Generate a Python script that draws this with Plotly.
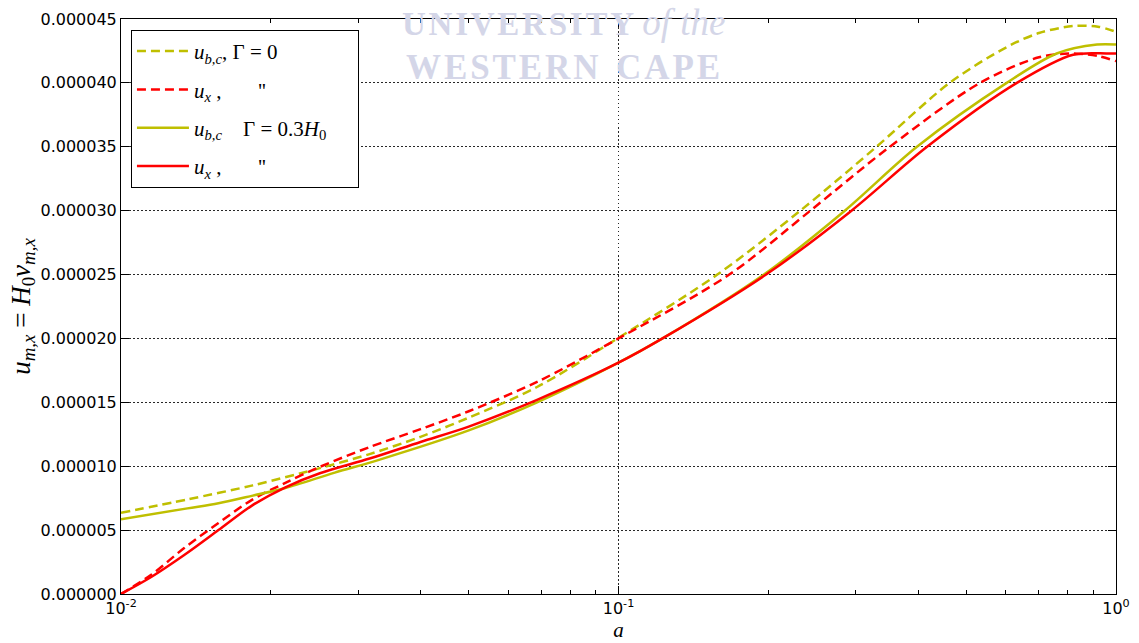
import plotly.graph_objects as go

# ---- data (values in units of 1e-6) ----
a_ubc_g0 = [0.01, 0.0136, 0.0184, 0.0251, 0.0316, 0.04, 0.05, 0.0686, 0.1, 0.158, 0.232, 0.33, 0.463, 0.603, 0.7, 0.82, 0.92, 1.0]
u_ubc_g0 = [6.35, 7.4, 8.5, 9.85, 10.95, 12.3, 13.8, 16.2, 20.05, 25.0, 30.0, 35.0, 40.0, 42.8, 43.9, 44.45, 44.4, 44.0]

a_ux_g0 = [0.01, 0.0115, 0.0134, 0.0157, 0.0183, 0.0214, 0.0251, 0.0316, 0.04, 0.05, 0.0686, 0.1, 0.167, 0.243, 0.351, 0.533, 0.70, 0.82, 0.92, 1.0]
u_ux_g0 = [0.0, 1.5, 3.6, 5.55, 7.35, 8.7, 9.95, 11.5, 12.9, 14.3, 16.6, 20.0, 25.0, 30.0, 35.0, 40.0, 42.0, 42.3, 42.1, 41.7]

a_ubc_g3 = [0.01, 0.0136, 0.0157, 0.0184, 0.0214, 0.0269, 0.033, 0.05, 0.0686, 0.1, 0.1226, 0.196, 0.285, 0.398, 0.603, 0.76, 0.916, 1.0]
u_ubc_g3 = [5.85, 6.7, 7.1, 7.7, 8.3, 9.5, 10.5, 12.8, 15.0, 18.1, 20.0, 25.0, 30.0, 35.0, 40.0, 42.3, 43.0, 43.0]

a_ux_g3 = [0.01, 0.0115, 0.0134, 0.0157, 0.0183, 0.0214, 0.0251, 0.0316, 0.04, 0.05, 0.0686, 0.1, 0.1226, 0.198, 0.294, 0.417, 0.632, 0.82, 0.959, 1.0]
u_ux_g3 = [0.0, 1.33, 3.05, 5.0, 6.9, 8.35, 9.45, 10.6, 11.9, 13.1, 15.2, 18.1, 20.0, 25.0, 30.0, 35.0, 40.0, 42.2, 42.3, 42.3]

y_ticks = [0, 5e-6, 10e-6, 15e-6, 20e-6, 25e-6, 30e-6, 35e-6, 40e-6, 45e-6]
x_ticks = [0.01, 0.1, 1.0]
x_ticklabels = ["10<sup>-2</sup>", "10<sup>-1</sup>", "10<sup>0</sup>"]
x_minor_ticks = [0.02, 0.03, 0.04, 0.05, 0.06, 0.07, 0.08, 0.09,
                 0.2, 0.3, 0.4, 0.5, 0.6, 0.7, 0.8, 0.9]

YEL = "rgb(191,191,0)"
RED = "rgb(255,0,0)"
SERIF = "Liberation Serif"
NB = "\u00a0"

def scale(v):
    return [x * 1e-6 for x in v]

fig = go.Figure()
series = [
    (a_ubc_g0, u_ubc_g0, YEL, "9px,5px", "<i>u</i><sub><i>b,c</i></sub>," + NB + "Γ" + NB + "=" + NB + "0"),
    (a_ux_g0, u_ux_g0, RED, "9px,5px", "<i>u</i><sub><i>x</i></sub>" + NB + "," + NB * 7 + "''"),
    (a_ubc_g3, u_ubc_g3, YEL, "solid", "<i>u</i><sub><i>b,c</i></sub>" + NB * 4 + "Γ" + NB + "=" + NB + "0.3<i>H</i><sub>0</sub>" + NB * 5),
    (a_ux_g3, u_ux_g3, RED, "solid", "<i>u</i><sub><i>x</i></sub>" + NB + "," + NB * 7 + "''"),
]
for i, (xa, ya, col, dash, name) in enumerate(series):
    fig.add_trace(go.Scatter(x=xa, y=scale(ya), mode="lines",
                             line=dict(color=col, width=2.5, dash=dash, shape="spline", smoothing=0.9),
                             name=name, legendgroup=f"g{i}"))

axis_common = dict(showline=True, linecolor="black", linewidth=1, mirror="ticks", ticks="inside",
                   tickcolor="black", ticklen=8, tickwidth=1, showgrid=True, gridcolor="rgb(40,40,40)",
                   griddash="1.5px,2.5px", gridwidth=1, zeroline=False, automargin=False,
                   tickfont=dict(family="DejaVu Sans", size=16, color="black"))

fig.update_xaxes(type="log", range=[-2, 0], tickvals=x_ticks, ticktext=x_ticklabels,
                 minor=dict(tickmode="array", tickvals=x_minor_ticks, ticks="inside", ticklen=4,
                            tickcolor="black", showgrid=False),
                 title=dict(text="<i>a</i>", font=dict(family=SERIF, size=21, color="black"), standoff=0),
                 **axis_common)
fig.update_yaxes(range=[0, 45e-6], tickvals=y_ticks, tickformat=".6f",
                 title=dict(text="<i>u</i><sub><i>m,x</i></sub> = <i>H</i><sub>0</sub><i>v</i><sub><i>m,x</i></sub>",
                            font=dict(family=SERIF, size=27, color="black"), standoff=2),
                 **axis_common)

fig.update_layout(
    width=1139, height=643,
    margin=dict(l=121, r=23, t=19, b=49),
    plot_bgcolor="white", paper_bgcolor="white",
    showlegend=True,
    legend=dict(x=0.01, y=0.981, xanchor="left", yanchor="top", bgcolor="white",
                bordercolor="black", borderwidth=1,
                font=dict(family=SERIF, size=21, color="black"),
                itemwidth=52, tracegroupgap=8),
)

hair = "\u200a"
WM = "rgb(212,214,232)"
fig.add_annotation(xref="paper", yref="paper", x=(564 - 121) / 995, y=1 - (22 - 19) / 575,
                   text="<b>" + hair.join("UNIVERSITY") + "</b> <i><span style='font-size:37px'>of the</span></i>",
                   showarrow=False,
                   font=dict(family=SERIF, size=33, color=WM), xanchor="center", yanchor="middle")
fig.add_annotation(xref="paper", yref="paper", x=(563 - 121) / 995, y=1 - (67 - 19) / 575,
                   text="<b>" + hair.join("WESTERN") + "  " + hair.join("CAPE") + "</b>", showarrow=False,
                   font=dict(family=SERIF, size=35, color=WM), xanchor="center", yanchor="middle")

fig.write_html("out.html", config={"displayModeBar": False},
               post_script="document.body.style.margin='0';")
